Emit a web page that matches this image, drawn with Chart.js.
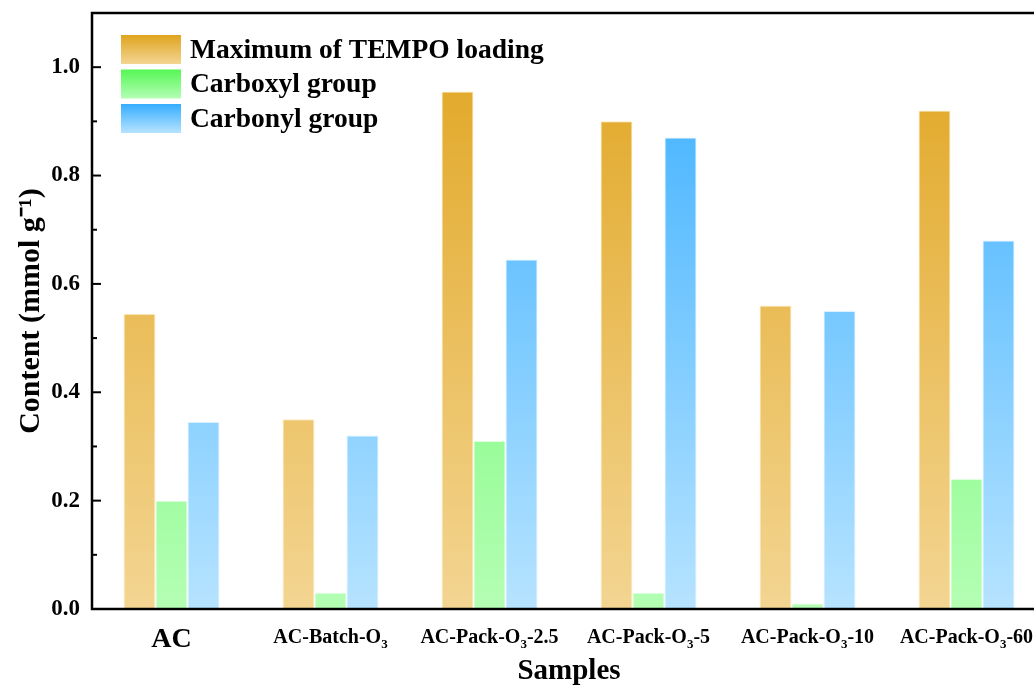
<!DOCTYPE html>
<html>
<head>
<meta charset="utf-8">
<script src="https://cdn.jsdelivr.net/npm/chart.js@4.4.1/dist/chart.umd.min.js"></script>
<style>
  html, body { margin: 0; padding: 0; background: #fff; overflow: hidden; }
  #wrap { width: 1060px; height: 686px; }
</style>
</head>
<body>
<div id="wrap"><canvas id="chart" width="1060" height="686"></canvas></div>
<script>
// data
const samples = ['AC', 'AC-Batch-O₃', 'AC-Pack-O₃-2.5', 'AC-Pack-O₃-5', 'AC-Pack-O₃-10', 'AC-Pack-O₃-60'];
const tempoLoading = [0.545, 0.35, 0.955, 0.90, 0.56, 0.92];
const carboxyl = [0.20, 0.03, 0.31, 0.03, 0.01, 0.24];
const carbonyl = [0.345, 0.32, 0.645, 0.87, 0.55, 0.68];
const seriesNames = ['Maximum of TEMPO loading', 'Carboxyl group', 'Carbonyl group'];
const yMajorTicks = [0, 0.2, 0.4, 0.6, 0.8, 1.0];

const FONT = '"Liberation Serif", "Times New Roman", serif';

// top / bottom colours of the vertical gradients
const palette = [
  { top: '#E0A41E', bottom: '#F3D592', border: 'rgba(255,236,190,0.9)' },
  { top: '#55F755', bottom: '#B4FEB4', border: 'rgba(220,255,220,0.9)' },
  { top: '#36ADFF', bottom: '#B6E3FF', border: 'rgba(215,240,255,0.9)' }
];

function areaGradient(i) {
  return (ctx) => {
    const chart = ctx.chart;
    const a = chart.chartArea;
    if (!a) return palette[i].top;
    const g = chart.ctx.createLinearGradient(0, a.top, 0, a.bottom);
    g.addColorStop(0, palette[i].top);
    g.addColorStop(1, palette[i].bottom);
    return g;
  };
}

// frame, inward ticks, category labels with subscripts, legend
const decorations = {
  id: 'decorations',
  afterDraw(chart) {
    const { ctx, chartArea: a, scales: { x, y } } = chart;
    ctx.save();
    ctx.strokeStyle = '#000';
    ctx.lineWidth = 2.5;
    ctx.beginPath();
    ctx.moveTo(a.right, a.top);
    ctx.lineTo(a.left, a.top);
    ctx.lineTo(a.left, a.bottom);
    ctx.lineTo(a.right, a.bottom);
    ctx.stroke();

    // y ticks pointing into the plot
    ctx.lineWidth = 2;
    for (let v = 0; v <= 1.1001; v += 0.1) {
      const py = y.getPixelForValue(v);
      const major = Math.round(v * 10) % 2 === 0;
      ctx.beginPath();
      ctx.moveTo(a.left, py);
      ctx.lineTo(a.left + (major ? 9 : 5), py);
      ctx.stroke();
    }

    // category labels, drawing "₃" as a real subscript
    ctx.fillStyle = '#000';
    ctx.textBaseline = 'alphabetic';
    ctx.textAlign = 'left';
    samples.forEach((lab, i) => {
      const cx = x.getPixelForValue(i);
      const size = i === 0 ? 28 : 20;
      const subSize = Math.round(size * 0.65);
      const parts = lab.split('₃');
      let w = 0;
      parts.forEach((p, k) => {
        ctx.font = 'bold ' + size + 'px ' + FONT;
        w += ctx.measureText(p).width;
        if (k < parts.length - 1) {
          ctx.font = 'bold ' + subSize + 'px ' + FONT;
          w += ctx.measureText('3').width;
        }
      });
      let px = cx - w / 2;
      const base = i === 0 ? 647 : 643;
      parts.forEach((p, k) => {
        ctx.font = 'bold ' + size + 'px ' + FONT;
        ctx.fillText(p, px, base);
        px += ctx.measureText(p).width;
        if (k < parts.length - 1) {
          ctx.font = 'bold ' + subSize + 'px ' + FONT;
          ctx.fillText('3', px, base + 5);
          px += ctx.measureText('3').width;
        }
      });
    });

    // legend in the upper left of the plot
    ctx.font = 'bold 27.5px ' + FONT;
    ctx.textBaseline = 'middle';
    seriesNames.forEach((name, i) => {
      const bx = 121, by = 35 + i * 34.5, bw = 60, bh = 29;
      const g = ctx.createLinearGradient(0, by, 0, by + bh);
      g.addColorStop(0, palette[i].top);
      g.addColorStop(1, palette[i].bottom);
      ctx.fillStyle = g;
      ctx.fillRect(bx, by, bw, bh);
      ctx.fillStyle = '#000';
      ctx.fillText(name, 190, by + bh / 2 + 1);
    });
    ctx.restore();
  }
};

const ctx = document.getElementById('chart').getContext('2d');
new Chart(ctx, {
  type: 'bar',
  data: {
    labels: samples,
    datasets: [tempoLoading, carboxyl, carbonyl].map((vals, i) => ({
      label: seriesNames[i],
      data: vals,
      backgroundColor: areaGradient(i),
      borderColor: palette[i].border,
      borderWidth: 1,
      categoryPercentage: 0.604,
      barPercentage: 1.0
    }))
  },
  options: {
    responsive: false,
    animation: false,
    devicePixelRatio: 1,
    layout: { padding: { left: 0, top: 13, right: 14, bottom: 0 } },
    plugins: {
      legend: { display: false },
      tooltip: { enabled: false }
    },
    scales: {
      x: {
        offset: true,
        grid: { display: false },
        border: { display: false },
        ticks: { display: false },
        title: {
          display: true,
          text: 'Samples',
          color: '#000',
          font: { family: FONT, size: 29, weight: 'bold', lineHeight: 1 },
          padding: { top: 0, bottom: 0 }
        },
        afterFit: (s) => { s.height = 77; s.paddingLeft = 0; s.paddingRight = 0; }
      },
      y: {
        min: 0,
        max: 1.1,
        afterBuildTicks: (s) => { s.ticks = yMajorTicks.map(v => ({ value: v })); },
        grid: { display: false, drawTicks: false },
        border: { display: false },
        ticks: {
          color: '#000',
          padding: 12,
          font: { family: FONT, size: 23, weight: 'bold' },
          callback: (v) => v.toFixed(1)
        },
        title: {
          display: true,
          text: 'Content (mmol g⁻¹)',
          color: '#000',
          font: { family: FONT, size: 30, weight: 'bold', lineHeight: 1 },
          padding: { top: 16, bottom: 0 }
        },
        afterFit: (s) => { s.width = 92; s.paddingTop = 0; s.paddingBottom = 0; }
      }
    }
  },
  plugins: [decorations]
});
</script>
</body>
</html>
